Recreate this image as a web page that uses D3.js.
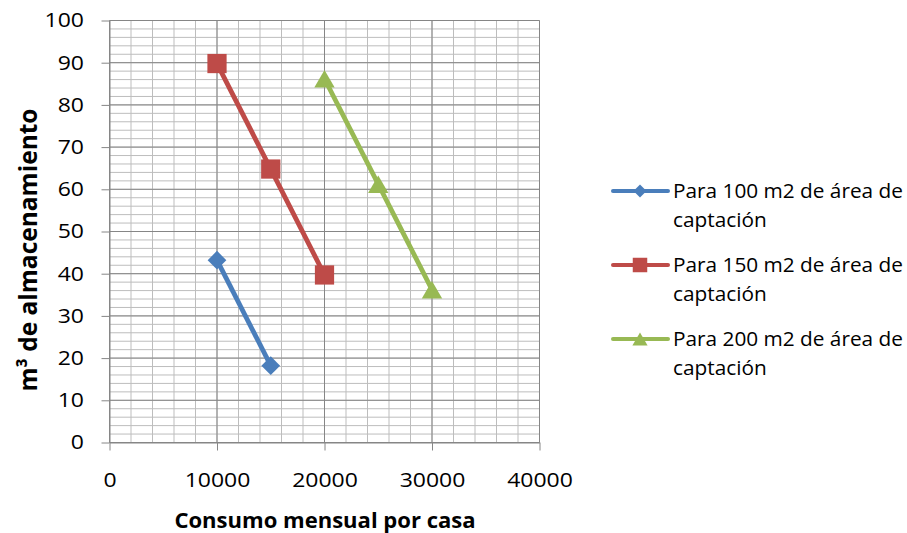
<!DOCTYPE html>
<html>
<head>
<meta charset="utf-8">
<script src="https://cdn.jsdelivr.net/npm/d3@7"></script>
<style>
  html, body { margin: 0; padding: 0; background: #fff; }
  svg { display: block; }
  text { font-family: "Open Sans", "Liberation Sans", sans-serif; fill: #000; }
</style>
</head>
<body>
<svg id="chart" width="907" height="533"></svg>
<script>
// ---- data ----
const xTicks = [0, 10000, 20000, 30000, 40000];
const yTicks = [0, 10, 20, 30, 40, 50, 60, 70, 80, 90, 100];
const xTitle = "Consumo mensual por casa";
const yTitle = "m³ de almacenamiento";

const seriesNames = [
  ["Para 100 m2 de área de", "captación"],
  ["Para 150 m2 de área de", "captación"],
  ["Para 200 m2 de área de", "captación"]
];
const blueX = [10000, 15000];
const blueY = [43.2, 18.2];
const redX = [10000, 15000, 20000];
const redY = [89.8, 64.8, 39.7];
const greenX = [20000, 25000, 30000];
const greenY = [86.2, 61.2, 36.2];

const colors = ["#4A7EBB", "#BE4B48", "#98B954"];

const series = [
  { name: seriesNames[0], pts: blueX.map((x, i) => ({ x, y: blueY[i] })) },
  { name: seriesNames[1], pts: redX.map((x, i) => ({ x, y: redY[i] })) },
  { name: seriesNames[2], pts: greenX.map((x, i) => ({ x, y: greenY[i] })) }
];

// ---- layout ----
const svg = d3.select("#chart");
const x = d3.scaleLinear().domain([0, 40000]).range([109.5, 539.5]);
const y = d3.scaleLinear().domain([0, 100]).range([442.5, 20.5]);

const grid = svg.append("g");
grid.selectAll("line.vmin").data(d3.range(0, 40001, 2000)).join("line")
  .attr("x1", d => x(d)).attr("x2", d => x(d))
  .attr("y1", y(0)).attr("y2", y(100))
  .attr("stroke", "#bdbdbd").attr("stroke-width", 1);
grid.selectAll("line.hmin").data(d3.range(0, 101, 2)).join("line")
  .attr("x1", x(0)).attr("x2", x(40000))
  .attr("y1", d => y(d)).attr("y2", d => y(d))
  .attr("stroke", "#bdbdbd").attr("stroke-width", 1);
grid.selectAll("line.vmaj").data(xTicks).join("line")
  .attr("x1", d => x(d)).attr("x2", d => x(d))
  .attr("y1", y(0)).attr("y2", y(100))
  .attr("stroke", "#868686").attr("stroke-width", 1);
grid.selectAll("line.hmaj").data(yTicks).join("line")
  .attr("x1", x(0)).attr("x2", x(40000))
  .attr("y1", d => y(d)).attr("y2", d => y(d))
  .attr("stroke", "#868686").attr("stroke-width", 1);

// axes
const tickFont = 20, tickStretch = 1.15;
const xAxis = d3.axisBottom(x).tickValues(xTicks).tickFormat(d3.format("d"))
  .tickSizeInner(8).tickSizeOuter(0).tickPadding(22);
const gx = svg.append("g").attr("transform", `translate(0,${y(0)})`).call(xAxis);
gx.select(".domain").attr("stroke", "#868686");
gx.selectAll(".tick line").attr("stroke", "#868686");
gx.selectAll(".tick text")
  .attr("transform", `translate(0,30) scale(${tickStretch},1)`).attr("y", 0)
  .attr("font-size", tickFont).attr("fill", "#000");

const yAxis = d3.axisLeft(y).tickValues(yTicks).tickFormat(d3.format("d"))
  .tickSizeInner(8).tickSizeOuter(0).tickPadding(17);
const gy = svg.append("g").attr("transform", `translate(${x(0)},0)`).call(yAxis);
gy.select(".domain").attr("stroke", "#868686");
gy.selectAll(".tick line").attr("stroke", "#868686");
gy.selectAll(".tick text")
  .attr("transform", `translate(-25.5,0) scale(${tickStretch},1)`).attr("x", 0)
  .attr("font-size", tickFont).attr("fill", "#000");
svg.selectAll(".tick text").attr("font-family", "'Open Sans', sans-serif");

// titles
svg.append("text").attr("transform", "translate(325,528) scale(1.05,1)")
  .attr("text-anchor", "middle")
  .attr("font-size", 21).attr("font-weight", "bold").text(xTitle);
svg.append("text").attr("transform", "translate(37,250) rotate(-90)")
  .attr("text-anchor", "middle").attr("font-size", 24.5).attr("font-weight", "bold")
  .text(yTitle);

// marker shapes
const diamond = s => `rotate(45) `;
function drawMarker(sel, i, big) {
  if (i === 0) {
    sel.append("path")
      .attr("d", d3.symbol().type(d3.symbolSquare).size(big ? 175 : 85))
      .attr("transform", "rotate(45)");
  } else if (i === 1) {
    sel.append("path").attr("d", d3.symbol().type(d3.symbolSquare).size(big ? 370 : 210));
  } else {
    const area = big ? 180 : 100;
    const side = Math.sqrt(4 * area / Math.sqrt(3));
    const h = side * Math.sqrt(3) / 2;
    sel.append("path").attr("d", d3.symbol().type(d3.symbolTriangle).size(area))
      .attr("transform", `translate(0,${h / 6})`);
  }
  sel.selectAll("path").attr("fill", colors[i]);
}

// series
const line = d3.line().x(d => x(d.x)).y(d => y(d.y));
const plot = svg.append("g");
series.forEach((s, i) => {
  plot.append("path").datum(s.pts).attr("d", line)
    .attr("fill", "none").attr("stroke", colors[i]).attr("stroke-width", 4.8)
    .attr("stroke-linejoin", "round");
});
series.forEach((s, i) => {
  plot.selectAll(null).data(s.pts).join("g")
    .attr("transform", d => `translate(${x(d.x)},${y(d.y)})`)
    .each(function () { drawMarker(d3.select(this), i, true); });
});

// legend
const lg = svg.append("g");
series.forEach((s, i) => {
  const cy = 191 + i * 74;
  const g = lg.append("g").attr("transform", `translate(0,${cy})`);
  g.append("line").attr("x1", 613).attr("x2", 668).attr("y1", 0).attr("y2", 0)
    .attr("stroke", colors[i]).attr("stroke-width", 4).attr("stroke-linecap", "round");
  drawMarker(g.append("g").attr("transform", "translate(640,0)"), i, false);
  s.name.forEach((t, k) => {
    g.append("text").attr("transform", `translate(673,${7 + k * 28.5}) scale(1.04,1)`)
      .attr("font-size", 20).text(t);
  });
});
</script>
</body>
</html>
